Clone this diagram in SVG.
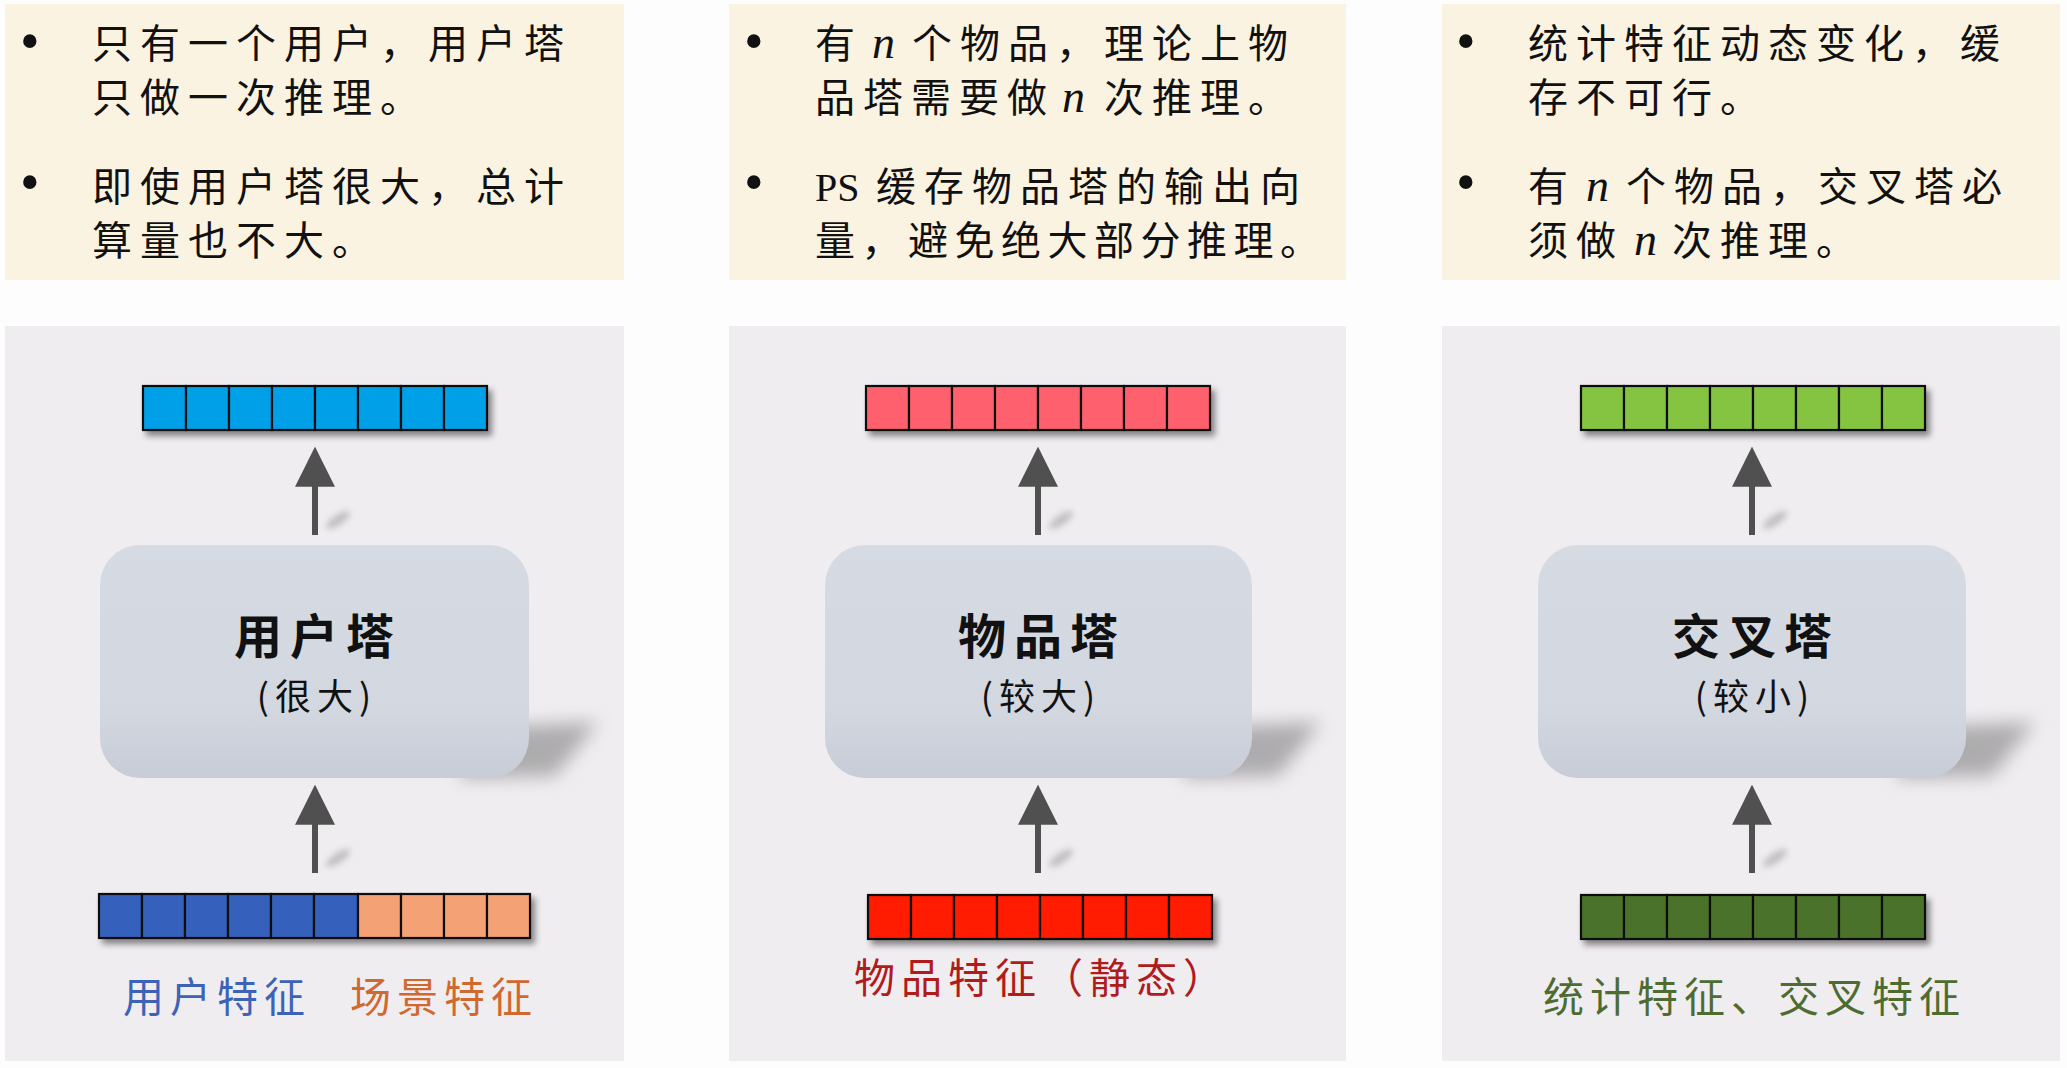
<svg xmlns="http://www.w3.org/2000/svg" width="2067" height="1068" viewBox="0 0 2067 1068">
<defs>
<style>
.note{fill:#FBF3E2}
.panel{fill:#F0EDF0}
.t{font-family:"Noto Sans CJK SC","Noto Sans",sans-serif;font-size:40px;letter-spacing:8px;fill:#111}
.bul{font-family:"Liberation Serif",serif;font-size:56px;fill:#111}
.nv{font-family:"Liberation Serif",serif;font-style:italic;font-size:46px;letter-spacing:0}
.ps{font-family:"Liberation Serif",serif;font-size:40px;letter-spacing:0}
.tname{font-family:"Noto Sans CJK SC",sans-serif;font-size:48px;font-weight:bold;letter-spacing:8px;fill:#111;text-anchor:middle}
.tsize{font-family:"Noto Sans CJK SC",sans-serif;font-size:36px;letter-spacing:6px;fill:#111;text-anchor:middle}
.lab{font-family:"Noto Sans CJK SC",sans-serif;font-size:41px;letter-spacing:6px}
.cell{stroke:#111;stroke-width:2.2}
.tower{fill:url(#tg)}
.arr{stroke:#505050;stroke-width:6;fill:none;marker-end:url(#ah)}
</style>
<linearGradient id="tg" x1="0" y1="0" x2="0" y2="1">
<stop offset="0" stop-color="#D6DBE3"/>
<stop offset="0.7" stop-color="#D2D7E0"/>
<stop offset="1" stop-color="#C7CCD6"/>
</linearGradient>
<filter id="ds" x="-10%" y="-50%" width="130%" height="220%">
<feDropShadow dx="4" dy="5" stdDeviation="3" flood-color="#000" flood-opacity="0.45"/>
</filter>
<filter id="blur6" x="-50%" y="-50%" width="200%" height="200%"><feGaussianBlur stdDeviation="9"/></filter>
<filter id="blur3" x="-50%" y="-50%" width="200%" height="200%"><feGaussianBlur stdDeviation="3"/></filter>
<marker id="ah" markerUnits="userSpaceOnUse" markerWidth="40" markerHeight="40" viewBox="0 0 36 36" refX="6" refY="18" orient="auto">
<path d="M0,0 L36,18 L0,36 Z" fill="#505050"/>
</marker>
</defs>
<rect width="2067" height="1068" fill="#FEFDFE"/>

<!-- top notes -->
<g id="note-user">
<rect class="note" x="5" y="4" width="619" height="276"/>
<text class="bul" x="20" y="60">•</text>
<text class="bul" x="20" y="201">•</text>
<text class="t" x="92" y="58">只有一个用户，用户塔</text>
<text class="t" x="92" y="112">只做一次推理。</text>
<text class="t" x="92" y="201">即使用户塔很大，总计</text>
<text class="t" x="92" y="255">算量也不大。</text>
</g>
<g id="note-item">
<rect class="note" x="729" y="4" width="617" height="276"/>
<text class="bul" x="744" y="60">•</text>
<text class="bul" x="744" y="201">•</text>
<text class="t" y="58"><tspan x="815">有</tspan><tspan class="nv" x="872">n</tspan><tspan x="912">个物品，理论上物</tspan></text>
<text class="t" y="112"><tspan x="815">品塔需要做</tspan><tspan class="nv" x="1062">n</tspan><tspan x="1104">次推理。</tspan></text>
<text class="t" y="201"><tspan class="ps" x="815">PS</tspan><tspan x="876">缓存物品塔的输出向</tspan></text>
<text class="t" x="815" y="255" style="letter-spacing:6.5px">量，避免绝大部分推理。</text>
</g>
<g id="note-cross">
<rect class="note" x="1442" y="4" width="618" height="276"/>
<text class="bul" x="1456" y="60">•</text>
<text class="bul" x="1456" y="201">•</text>
<text class="t" x="1528" y="58">统计特征动态变化，缓</text>
<text class="t" x="1528" y="112">存不可行。</text>
<text class="t" y="201"><tspan x="1528">有</tspan><tspan class="nv" x="1586">n</tspan><tspan x="1626">个物品，交叉塔必</tspan></text>
<text class="t" y="255"><tspan x="1528">须做</tspan><tspan class="nv" x="1634">n</tspan><tspan x="1672">次推理。</tspan></text>
</g>

<!-- bottom panels -->
<rect class="panel" x="5" y="326" width="619" height="735"/>
<rect class="panel" x="729" y="326" width="617" height="735"/>
<rect class="panel" x="1442" y="326" width="618" height="735"/>

<!-- output vectors -->
<g id="out-user" filter="url(#ds)" fill="#00A0E9">
<rect class="cell" x="143" y="386" width="43" height="44"/><rect class="cell" x="186" y="386" width="43" height="44"/><rect class="cell" x="229" y="386" width="43" height="44"/><rect class="cell" x="272" y="386" width="43" height="44"/><rect class="cell" x="315" y="386" width="43" height="44"/><rect class="cell" x="358" y="386" width="43" height="44"/><rect class="cell" x="401" y="386" width="43" height="44"/><rect class="cell" x="444" y="386" width="43" height="44"/>
</g>
<g id="out-item" filter="url(#ds)" fill="#FF616D">
<rect class="cell" x="866" y="386" width="43" height="44"/><rect class="cell" x="909" y="386" width="43" height="44"/><rect class="cell" x="952" y="386" width="43" height="44"/><rect class="cell" x="995" y="386" width="43" height="44"/><rect class="cell" x="1038" y="386" width="43" height="44"/><rect class="cell" x="1081" y="386" width="43" height="44"/><rect class="cell" x="1124" y="386" width="43" height="44"/><rect class="cell" x="1167" y="386" width="43" height="44"/>
</g>
<g id="out-cross" filter="url(#ds)" fill="#84C441">
<rect class="cell" x="1581" y="386" width="43" height="44"/><rect class="cell" x="1624" y="386" width="43" height="44"/><rect class="cell" x="1667" y="386" width="43" height="44"/><rect class="cell" x="1710" y="386" width="43" height="44"/><rect class="cell" x="1753" y="386" width="43" height="44"/><rect class="cell" x="1796" y="386" width="43" height="44"/><rect class="cell" x="1839" y="386" width="43" height="44"/><rect class="cell" x="1882" y="386" width="43" height="44"/>
</g>

<!-- towers -->
<g id="tower-user">
<polygon points="470,728 598,722 555,776 460,778" fill="#777" opacity="0.55" filter="url(#blur6)"/>
<rect class="tower" x="100" y="545" width="429" height="233" rx="40"/>
<text class="tname" x="318" y="654">用户塔</text>
<text class="tsize" x="317" y="710">(很大)</text>
</g>
<g id="tower-item">
<polygon points="1193,728 1321,722 1278,776 1183,778" fill="#777" opacity="0.55" filter="url(#blur6)"/>
<rect class="tower" x="825" y="545" width="427" height="233" rx="40"/>
<text class="tname" x="1042" y="654">物品塔</text>
<text class="tsize" x="1041" y="710">(较大)</text>
</g>
<g id="tower-cross">
<polygon points="1907,728 2035,722 1992,776 1897,778" fill="#777" opacity="0.55" filter="url(#blur6)"/>
<rect class="tower" x="1538" y="545" width="428" height="233" rx="40"/>
<text class="tname" x="1756" y="654">交叉塔</text>
<text class="tsize" x="1755" y="710">(较小)</text>
</g>

<!-- input vectors -->
<g id="in-user" filter="url(#ds)">
<rect class="cell" fill="#3561BB" x="99" y="894" width="43" height="44"/><rect class="cell" fill="#3561BB" x="142" y="894" width="43" height="44"/><rect class="cell" fill="#3561BB" x="185" y="894" width="43" height="44"/><rect class="cell" fill="#3561BB" x="228" y="894" width="43" height="44"/><rect class="cell" fill="#3561BB" x="271" y="894" width="43" height="44"/><rect class="cell" fill="#3561BB" x="314" y="894" width="44" height="44"/><rect class="cell" fill="#F4A275" x="358" y="894" width="43" height="44"/><rect class="cell" fill="#F4A275" x="401" y="894" width="43" height="44"/><rect class="cell" fill="#F4A275" x="444" y="894" width="43" height="44"/><rect class="cell" fill="#F4A275" x="487" y="894" width="43" height="44"/>
</g>
<g id="in-item" filter="url(#ds)" fill="#FF1A00">
<rect class="cell" x="868" y="895" width="43" height="44"/><rect class="cell" x="911" y="895" width="43" height="44"/><rect class="cell" x="954" y="895" width="43" height="44"/><rect class="cell" x="997" y="895" width="43" height="44"/><rect class="cell" x="1040" y="895" width="43" height="44"/><rect class="cell" x="1083" y="895" width="43" height="44"/><rect class="cell" x="1126" y="895" width="43" height="44"/><rect class="cell" x="1169" y="895" width="43" height="44"/>
</g>
<g id="in-cross" filter="url(#ds)" fill="#4B722B">
<rect class="cell" x="1581" y="895" width="43" height="44"/><rect class="cell" x="1624" y="895" width="43" height="44"/><rect class="cell" x="1667" y="895" width="43" height="44"/><rect class="cell" x="1710" y="895" width="43" height="44"/><rect class="cell" x="1753" y="895" width="43" height="44"/><rect class="cell" x="1796" y="895" width="43" height="44"/><rect class="cell" x="1839" y="895" width="43" height="44"/><rect class="cell" x="1882" y="895" width="43" height="44"/>
</g>

<!-- labels -->
<g id="labels">
<text class="lab" x="123" y="1012" fill="#3C63B8">用户特征</text>
<text class="lab" x="350" y="1012" fill="#D0692F">场景特征</text>
<text class="lab" x="854" y="993" fill="#B01C1C">物品特征（静态）</text>
<text class="lab" x="1543" y="1012" fill="#4E6B30">统计特征、交叉特征</text>
</g>

<!-- connectors -->
<g id="connectors">
<g fill="#9A9A9A" opacity="0.55" filter="url(#blur3)">
<ellipse cx="338" cy="520" rx="14" ry="5" transform="rotate(-35 338 520)"/>
<ellipse cx="338" cy="858" rx="14" ry="5" transform="rotate(-35 338 858)"/>
<ellipse cx="1061" cy="520" rx="14" ry="5" transform="rotate(-35 1061 520)"/>
<ellipse cx="1061" cy="858" rx="14" ry="5" transform="rotate(-35 1061 858)"/>
<ellipse cx="1775" cy="520" rx="14" ry="5" transform="rotate(-35 1775 520)"/>
<ellipse cx="1775" cy="858" rx="14" ry="5" transform="rotate(-35 1775 858)"/>
</g>
<line class="arr" x1="315" y1="535" x2="315" y2="480"/>
<line class="arr" x1="315" y1="873" x2="315" y2="818"/>
<line class="arr" x1="1038" y1="535" x2="1038" y2="480"/>
<line class="arr" x1="1038" y1="873" x2="1038" y2="818"/>
<line class="arr" x1="1752" y1="535" x2="1752" y2="480"/>
<line class="arr" x1="1752" y1="873" x2="1752" y2="818"/>
</g>
</svg>
